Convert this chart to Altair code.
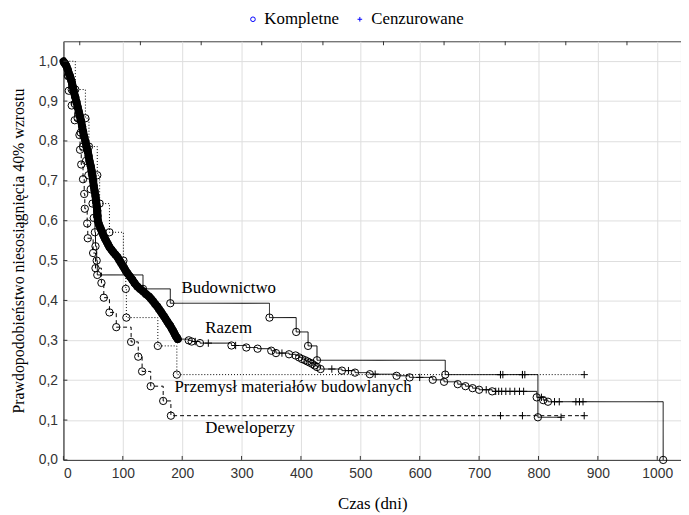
import altair as alt
import pandas as pd

# ---------------- data ----------------
# Razem (all firms): day, survival after the observation, 1 = complete, 0 = censored
razem_day = [1, 3, 5, 7.5, 9, 11, 12.5, 14, 16, 17.5, 20, 22, 24, 26, 28, 30, 31.5, 33, 35, 37,
             39, 41, 42.5, 44, 46, 47.5, 49, 50, 51, 52.5, 54, 55, 56, 57, 57.5, 58, 60, 62.5, 65, 67.5,
             70, 72.5, 75, 77.5, 81, 84, 87.5, 91, 94, 97, 100, 102.5, 105, 108, 112, 116, 120, 124.5,
             129, 134, 139, 144, 147.5, 151, 154.5, 158, 161, 164, 166.5, 169, 172, 175, 177.5, 180,
             182.5, 185, 187, 189, 191, 192.5,
             211, 216, 222, 230, 244, 283, 290, 308, 327, 350, 358, 368, 380, 391, 397, 402, 407, 411,
             415, 419, 423, 427, 433, 452, 469, 480, 491, 516, 525, 561, 583, 600, 622, 641, 664, 677,
             689, 700, 712, 722, 728, 733, 738, 745, 752, 760, 768, 775, 797, 805, 808, 816, 827, 835,
             863, 869, 875, 1010]
razem_surv = [0.997, 0.993, 0.988, 0.978, 0.970, 0.963, 0.955, 0.948, 0.935, 0.923, 0.910, 0.898,
              0.885, 0.873, 0.861, 0.849, 0.836, 0.824, 0.811, 0.799, 0.786, 0.774, 0.762, 0.749,
              0.737, 0.725, 0.712, 0.700, 0.688, 0.675, 0.662, 0.650, 0.637, 0.625, 0.612, 0.600,
              0.590, 0.581, 0.572, 0.563, 0.555, 0.548, 0.541, 0.534, 0.527, 0.521, 0.515, 0.509,
              0.501, 0.494, 0.487, 0.481, 0.474, 0.468, 0.460, 0.452, 0.443, 0.435, 0.429, 0.423,
              0.416, 0.410, 0.404, 0.398, 0.391, 0.385, 0.378, 0.372, 0.366, 0.361, 0.354, 0.347,
              0.341, 0.336, 0.329, 0.323, 0.317, 0.311, 0.307, 0.303,
              0.300, 0.297, 0.297, 0.293, 0.293, 0.287, 0.287, 0.282, 0.279, 0.274, 0.268, 0.268,
              0.265, 0.262, 0.257, 0.253, 0.250, 0.247, 0.244, 0.241, 0.237, 0.233, 0.228, 0.228,
              0.224, 0.224, 0.219, 0.215, 0.215, 0.211, 0.207, 0.207, 0.201, 0.196, 0.190, 0.185,
              0.180, 0.176, 0.176, 0.172, 0.172, 0.172, 0.172, 0.172, 0.172, 0.172, 0.172, 0.172,
              0.157, 0.157, 0.150, 0.146, 0.146, 0.146, 0.146, 0.146, 0.146, 0.0]
razem_event = [1] * 80 + [
    1, 1, 0, 1, 0, 1, 0, 1, 1, 1, 1, 0, 1, 1, 1, 1, 1, 1, 1, 1, 1, 1, 1, 0, 1, 0, 1, 1, 0, 1,
    1, 0, 1, 1, 1, 1, 1, 1, 0, 1, 0, 0, 0, 0, 0, 0, 0, 0, 1, 0, 1, 1, 0, 0, 0, 0, 0, 1]

# Budownictwo
bud_day = [8, 14, 19, 24, 29, 33, 38, 42, 46, 49, 51, 53, 54, 56, 57, 134, 180, 347, 392, 412,
           427, 643, 736, 740, 773, 777, 799, 838]
bud_surv = [0.964, 0.929, 0.893, 0.857, 0.821, 0.786, 0.750, 0.714, 0.679, 0.643, 0.607, 0.571,
            0.536, 0.500, 0.464, 0.429, 0.393, 0.357, 0.321, 0.286, 0.250, 0.214, 0.214, 0.214,
            0.214, 0.214, 0.107, 0.107]
bud_event = [1] * 22 + [0, 0, 0, 0, 1, 0]

# Przemysł materiałów budowlanych
prz_day = [20, 37, 43, 57, 61, 77.5, 101, 105, 106, 159, 191, 736, 773, 877]
prz_surv = [0.929, 0.857, 0.786, 0.714, 0.643, 0.571, 0.500, 0.429, 0.357, 0.286, 0.214,
            0.214, 0.214, 0.214]
prz_event = [1] * 11 + [0, 0, 0]

# Deweloperzy
dew_day = [7.5, 9, 14, 19, 27, 28, 30, 33, 35, 36, 40, 41, 50, 54, 64, 68, 77.5, 89, 114, 126,
           132.5, 147, 168, 181, 736, 773, 877]
dew_surv = [0.963, 0.926, 0.889, 0.852, 0.815, 0.778, 0.741, 0.704, 0.667, 0.630, 0.593, 0.556,
            0.519, 0.481, 0.444, 0.407, 0.370, 0.333, 0.296, 0.259, 0.222, 0.185, 0.148, 0.111,
            0.111, 0.111, 0.111]
dew_event = [1] * 24 + [0, 0, 0]

series_names = ["Razem", "Budownictwo", "Przemysł materiałów budowlanych", "Deweloperzy"]
status_names = ["Kompletne", "Cenzurowane"]

label_text = ["Budownictwo", "Razem", "Przemysł materiałów budowlanych", "Deweloperzy"]
label_day = [199, 239, 187, 239]
label_surv = [0.432, 0.330, 0.184, 0.079]

x_ticks = list(range(0, 1001, 100))
y_ticks = [0.0, 0.1, 0.2, 0.3, 0.4, 0.5, 0.6, 0.7, 0.8, 0.9, 1.0]
top_ticks = [27.5, 129.6, 232, 334, 437, 539, 641, 744, 846, 949]

# ---------------- frames ----------------
all_series = {
    "Razem": (razem_day, razem_surv, razem_event),
    "Budownictwo": (bud_day, bud_surv, bud_event),
    "Przemysł materiałów budowlanych": (prz_day, prz_surv, prz_event),
    "Deweloperzy": (dew_day, dew_surv, dew_event),
}
line_rows, pt_rows = [], []
for name, (d, s, e) in all_series.items():
    line_rows.append({"series": name, "day": 0.0, "S": 1.0, "idx": 0})
    for i, (dd, ss, ee) in enumerate(zip(d, s, e)):
        line_rows.append({"series": name, "day": dd, "S": ss, "idx": i + 1})
        pt_rows.append({"series": name, "day": dd, "S": ss,
                        "status": status_names[0] if ee else status_names[1]})
lines_df = pd.DataFrame(line_rows)
pts_df = pd.DataFrame(pt_rows)
labels_df = pd.DataFrame({"label": label_text, "day": label_day, "S": label_surv})
top_df = pd.DataFrame({"day": top_ticks})
bot_df = pd.DataFrame({"day": x_ticks})
left_df = pd.DataFrame({"S": y_ticks})

W, H = 624, 423
serif = "Liberation Serif, Times New Roman, DejaVu Serif, serif"
sans = "Liberation Sans, Arial, sans-serif"

X = alt.X("day:Q", scale=alt.Scale(domain=[0, 1040], nice=False, zero=False),
          axis=alt.Axis(values=x_ticks, title="Czas (dni)", format="d"))
Y = alt.Y("S:Q", scale=alt.Scale(domain=[0, 1.05], nice=False),
          axis=alt.Axis(values=y_ticks, title="Prawdopodobieństwo niesosiągnięcia 40% wzrostu",
                        labelExpr="replace(format(datum.value, '.1f'), '.', ',')"))

lines = alt.Chart(lines_df).mark_line(interpolate="step-after", color="black", strokeWidth=1).encode(
    x=X, y=Y,
    detail="series:N",
    order="idx:Q",
    strokeDash=alt.StrokeDash("series:N", scale=alt.Scale(
        domain=series_names, range=[[1, 0], [1, 0], [1, 2], [4, 3]]), legend=None),
)

thick = alt.Chart(lines_df).transform_filter(
    (alt.datum.series == "Razem") & (alt.datum.day <= 193)
).mark_line(color="black", strokeWidth=8, strokeCap="round", strokeJoin="round").encode(
    x=X, y=Y, order="idx:Q")

plus_path = "M-1,0L1,0M0,-1L0,1"
points = alt.Chart(pts_df).mark_point(filled=False, color="black", size=55, strokeWidth=1, opacity=1).encode(
    x=X, y=Y,
    shape=alt.Shape("status:N", scale=alt.Scale(domain=status_names, range=["circle", plus_path]),
                    legend=alt.Legend(title=None, orient="none", legendX=183, legendY=-31,
                                      direction="horizontal", labelFont=serif, labelFontSize=17,
                                      labelColor="black", symbolStrokeColor="#0000ff",
                                      symbolFillColor="transparent", symbolSize=22,
                                      symbolStrokeWidth=1, columnPadding=12, labelOffset=3)),
)

texts = alt.Chart(labels_df).mark_text(align="left", baseline="middle", font=serif, fontSize=17,
                                       color="black").encode(x=X, y=Y, text="label:N")

top_t = alt.Chart(top_df).mark_rule(color="#333", strokeWidth=1).encode(
    x=X, y=alt.value(0), y2=alt.value(4))
bot_t = alt.Chart(bot_df).mark_rule(color="#333", strokeWidth=1).encode(
    x=X, y=alt.value(H), y2=alt.value(H - 4))
left_t = alt.Chart(left_df).mark_rule(color="#333", strokeWidth=1).encode(
    y=Y, x=alt.value(0), x2=alt.value(4))

chart = alt.layer(lines, thick, points, texts, top_t, bot_t, left_t).properties(
    width=W, height=H,
    autosize=alt.AutoSizeParams(type="none"),
    padding={"left": 56, "top": 31, "right": 0, "bottom": 53},
).configure_view(stroke="#404040", strokeWidth=1).configure_axis(
    grid=True, gridColor="#dedede", gridWidth=1,
    domainColor="#404040", domainWidth=1,
    ticks=False, labelFont=sans, labelFontSize=14, labelColor="#333",
    titleFont=serif, titleFontWeight="normal", titleColor="black",
).configure_axisX(labelPadding=7, titlePadding=15, titleFontSize=17).configure_axisY(
    labelPadding=6, titlePadding=12, titleFontSize=16)

chart.save("out.html", embed_options={"renderer": "svg", "actions": False})
